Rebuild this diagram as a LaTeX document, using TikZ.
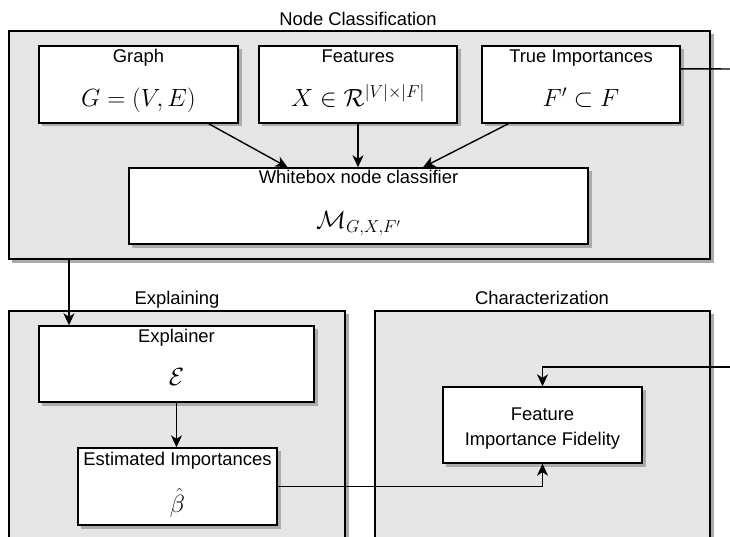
\documentclass[tikz,border=0pt]{standalone}
\usepackage{fontspec}
\setmainfont{Liberation Sans}
\usetikzlibrary{arrows.meta,calc}
\begin{document}
\begin{tikzpicture}[x=1pt,y=-1pt,
  shadowfill/.style={fill=black!33,draw=none},
  container/.style={draw,fill=black!10,line width=1.4pt,inner sep=0,anchor=center},
  box/.style={draw,fill=white,line width=1.4pt,inner sep=0,anchor=center},
  ttl/.style={font=\fontsize{18.4}{22}\selectfont,inner sep=0,anchor=base},
  mth/.style={font=\fontsize{24}{28}\selectfont,inner sep=0,anchor=base},
  arr/.style={-{Stealth[length=12pt,width=11pt,inset=3.5pt]},line width=1.4pt},
  ln/.style={line width=1.4pt}]
\useasboundingbox (0,0) rectangle (730,537);
% container shadows
\fill[shadowfill] (12,34) rectangle (713.5,262.5);
\fill[shadowfill] (12,314) rectangle (348.5,560);
\fill[shadowfill] (378,314) rectangle (713.5,560);
% containers
\node[container,minimum width=701pt,minimum height=228pt] (nc) at (359.5,145) {};
\node[container,minimum width=336pt,minimum height=249pt] (ex) at (177,435.5) {};
\node[container,minimum width=335pt,minimum height=249pt] (ch) at (542.5,435.5) {};
\node[ttl] (tnc) at (358,26) {Node Classification};
\node[ttl] (tex) at (177,304) {Explaining};
\node[ttl] (tch) at (542,304) {Characterization};
% box shadows
\fill[shadowfill] (42,49) rectangle (241.5,126.5);
\fill[shadowfill] (262,49) rectangle (460.5,126.5);
\fill[shadowfill] (485,49) rectangle (683.5,126.5);
\fill[shadowfill] (132,171) rectangle (591.5,247.5);
\fill[shadowfill] (42,329) rectangle (317.5,405.5);
\fill[shadowfill] (81,451) rectangle (280.5,528.5);
\fill[shadowfill] (446,390) rectangle (645.5,466.5);
% boxes
\node[box,minimum width=199pt,minimum height=77pt] (graph) at (138.5,84.5) {};
\node[box,minimum width=198pt,minimum height=77pt] (feat) at (358,84.5) {};
\node[box,minimum width=198pt,minimum height=77pt] (ti) at (581,84.5) {};
\node[box,minimum width=459pt,minimum height=76pt] (wb) at (358.5,206) {};
\node[box,minimum width=275pt,minimum height=76pt] (expl) at (176.5,364) {};
\node[box,minimum width=199pt,minimum height=77pt] (est) at (177.5,486.5) {};
\node[box,minimum width=199pt,minimum height=76pt] (fif) at (542.5,425) {};
% texts
\node[ttl] (tgraph) at (138.5,62.5) {Graph};
\node[mth] (mgraph) at (138.5,106.5) {$G=(V,E)$};
\node[ttl] (tfeat) at (358,62.5) {Features};
\node[mth] (mfeat) at (358,106.5) {$X\in\mathcal{R}^{|V|\times|F|}$};
\node[ttl] (tti) at (581,62.5) {True Importances};
\node[mth] (mti) at (581,106.5) {$F'\subset F$};
\node[ttl] (twb) at (358.5,184) {Whitebox node classifier};
\node[mth] (mwb) at (358.5,229) {$\mathcal{M}_{G,X,F'}$};
\node[ttl] (texpl) at (176.5,342.5) {Explainer};
\node[mth] (mexpl) at (176.5,385) {$\mathcal{E}$};
\node[ttl] (test) at (177.5,465) {Estimated Importances};
\node[mth] (mest) at (177.5,512) {$\hat{\beta}$};
\node[ttl] (tfif1) at (542.5,420.5) {Feature};
\node[ttl] (tfif2) at (542.5,445) {Importance Fidelity};
% connectors
\draw[arr] ($(graph.south west)!0.85!(graph.south east)$) -- ($(wb.north west)!0.346!(wb.north east)$);
\draw[arr] (feat.south) -- (feat.south |- wb.north);
\draw[arr] ($(ti.south west)!0.136!(ti.south east)$) -- ($(wb.north west)!0.64!(wb.north east)$);
\coordinate (outA) at (735,69);
\draw[ln] ($(ti.north east)!0.3!(ti.south east)$) -- (outA);
\coordinate (outB) at (735,367);
\draw[arr] (outB) -| (fif.north);
\coordinate (ncout) at (69,0);
\draw[arr] (ncout |- nc.south) -- (ncout |- expl.north);
\draw[arr] (expl.south) -- (expl.south |- est.north);
\draw[arr] (est.east) -| (fif.south);
\end{tikzpicture}
\end{document}
